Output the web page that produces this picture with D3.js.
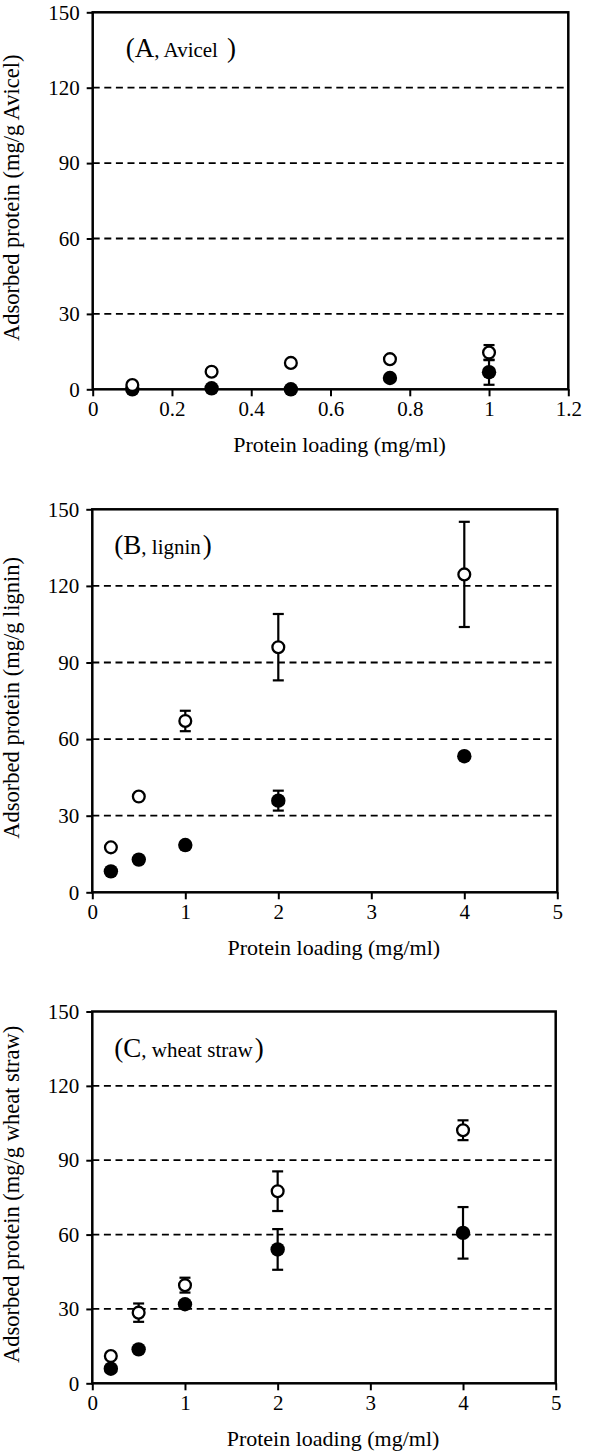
<!DOCTYPE html>
<html>
<head>
<meta charset="utf-8">
<script src="https://cdn.jsdelivr.net/npm/d3@7"></script>
<style>
  html, body { margin: 0; padding: 0; background: #fff; }
  svg { display: block; font-family: "Liberation Serif", "Times New Roman", serif; }
</style>
</head>
<body>
<svg id="chart" width="600" height="1454"></svg>
<script>
// ---------- data ----------
const panelLetters = ["A", "B", "C"];
const panelNames = ["Avicel", "lignin", "wheat straw"];
const yTitles = ["Adsorbed protein (mg/g Avicel)", "Adsorbed protein (mg/g lignin)", "Adsorbed protein (mg/g wheat straw)"];
const xTitle = "Protein loading (mg/ml)";
const yTickValues = [0, 30, 60, 90, 120, 150];
const gridValues = [30, 60, 90, 120];
const xTicksA = [0, 0.2, 0.4, 0.6, 0.8, 1, 1.2];
const xTicksBC = [0, 1, 2, 3, 4, 5];

const loadingA = [0.1, 0.3, 0.5, 0.75, 1];
const openA = [1.7, 7.0, 10.5, 12.0, 14.6];
const openErrA = [0, 0, 0, 0, 3];
const filledA = [0, 0.4, 0, 4.5, 6.8];
const filledErrA = [0, 0, 0, 0, 5];

const loadingBC = [0.2, 0.5, 1, 2, 4];
const openB = [17.6, 37.5, 67.1, 96, 124.5];
const openErrB = [0, 0, 4, 13, 20.6];
const filledB = [8.2, 12.8, 18.5, 35.9, 53.3];
const filledErrB = [0, 0, 0, 3.9, 0];

const openC = [11.0, 28.5, 39.6, 77.5, 102.1];
const openErrC = [0, 3.7, 3, 8, 4];
const filledC = [5.9, 13.7, 31.9, 54.0, 60.7];
const filledErrC = [0, 0, 0, 8.2, 10.4];

// ---------- layout ----------
const panels = [
  { x: loadingA, open: openA, openErr: openErrA, filled: filledA, filledErr: filledErrA, xTicks: xTicksA,
    left: 92.7, right: 568.3, top: 12.3, bottom: 389.3, labelDx: 33, closeDx: 9 },
  { x: loadingBC, open: openB, openErr: openErrB, filled: filledB, filledErr: filledErrB, xTicks: xTicksBC,
    left: 92.3, right: 557.3, top: 509.3, bottom: 892.3, labelDx: 22, closeDx: 2 },
  { x: loadingBC, open: openC, openErr: openErrC, filled: filledC, filledErr: filledErrC, xTicks: xTicksBC,
    left: 92.3, right: 555.7, top: 1011.5, bottom: 1383.3, labelDx: 22, closeDx: 2 }
];

const svg = d3.select("#chart");
const tickFont = 21;

panels.forEach((p, i) => {
  const g = svg.append("g");
  const xs = d3.scaleLinear().domain([0, d3.max(p.xTicks)]).range([p.left, p.right]);
  const ys = d3.scaleLinear().domain([0, 150]).range([p.bottom, p.top]);

  // gridlines
  g.selectAll("line.grid").data(gridValues).join("line")
    .attr("x1", p.left).attr("x2", p.right - 4)
    .attr("y1", d => ys(d)).attr("y2", d => ys(d))
    .attr("stroke", "#000").attr("stroke-width", 1.8)
    .attr("stroke-dasharray", "7,4.6");

  // axes
  const yAxis = d3.axisLeft(ys).tickValues(yTickValues).tickSize(6).tickPadding(7).tickFormat(d => String(d));
  const ya = g.append("g").attr("transform", `translate(${p.left},0)`).call(yAxis);
  const xAxis = d3.axisBottom(xs).tickValues(p.xTicks).tickSize(7).tickPadding(5).tickFormat(d => String(d));
  const xa = g.append("g").attr("transform", `translate(0,${p.bottom})`).call(xAxis);
  [ya, xa].forEach(a => {
    a.select(".domain").remove();
    a.selectAll(".tick line").attr("stroke", "#000").attr("stroke-width", 2);
    a.selectAll(".tick text").attr("fill", "#000")
      .style("font-family", '"Liberation Serif", serif').style("font-size", tickFont + "px");
  });

  // frame
  g.append("rect")
    .attr("x", p.left).attr("y", p.top)
    .attr("width", p.right - p.left).attr("height", p.bottom - p.top)
    .attr("fill", "none").attr("stroke", "#000").attr("stroke-width", 2.5);

  // axis titles
  g.append("text")
    .attr("x", (p.left + p.right) / 2 + 9).attr("y", p.bottom + 63)
    .attr("text-anchor", "middle").style("font-size", "22px").text(xTitle);
  g.append("text")
    .attr("transform", `translate(19,${(p.top + p.bottom) / 2 - 3}) rotate(-90)`)
    .attr("text-anchor", "middle").style("font-size", "22.5px").text(yTitles[i]);

  // panel label
  const lab = g.append("text").attr("x", p.left + p.labelDx).attr("y", p.top + 45);
  lab.append("tspan").style("font-size", "27px").text("(");
  lab.append("tspan").style("font-size", "27px").text(panelLetters[i]);
  lab.append("tspan").style("font-size", "21px").text(", " + panelNames[i]);
  lab.append("tspan").attr("dx", p.closeDx).style("font-size", "27px").text(")");

  // series
  const series = [
    { v: p.filled, e: p.filledErr, fill: "#000", r: 7.2, sw: 0 },
    { v: p.open, e: p.openErr, fill: "#fff", r: 5.9, sw: 2.3 }
  ];
  series.forEach(s => {
    const pts = p.x.map((x, k) => ({ x, y: s.v[k], e: s.e[k] }));
    const eb = g.append("g");
    pts.filter(d => d.e > 0).forEach(d => {
      const cx = xs(d.x);
      eb.append("line").attr("x1", cx).attr("x2", cx).attr("y1", ys(d.y + d.e)).attr("y2", ys(d.y - d.e))
        .attr("stroke", "#000").attr("stroke-width", 2.2);
      [d.y + d.e, d.y - d.e].forEach(v => {
        eb.append("line").attr("x1", cx - 5.5).attr("x2", cx + 5.5).attr("y1", ys(v)).attr("y2", ys(v))
          .attr("stroke", "#000").attr("stroke-width", 2.2);
      });
    });
  });
  series.forEach(s => {
    const pts = p.x.map((x, k) => ({ x, y: s.v[k] }));
    g.append("g").selectAll("circle").data(pts).join("circle")
      .attr("cx", d => xs(d.x)).attr("cy", d => ys(d.y)).attr("r", s.r)
      .attr("fill", s.fill).attr("stroke", "#000").attr("stroke-width", s.sw);
  });
});
</script>
</body>
</html>
